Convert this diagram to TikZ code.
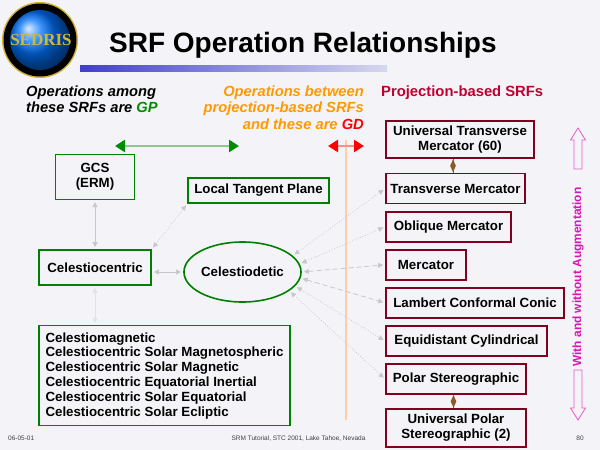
\documentclass[tikz,border=0pt]{standalone}
\usepackage{fontspec}
\setmainfont{Liberation Sans}
\newfontfamily\logofont{Liberation Serif}
\usetikzlibrary{positioning,shapes.geometric,arrows.meta}

\definecolor{bgcol}{RGB}{244,244,248}
\definecolor{gpgreen}{RGB}{0,140,0}
\definecolor{boxgreen}{RGB}{0,128,0}
\definecolor{maroon}{RGB}{128,0,32}
\definecolor{ochre}{RGB}{255,153,0}
\definecolor{pale}{RGB}{255,205,170}
\definecolor{crimson}{RGB}{192,0,48}
\definecolor{linkgray}{RGB}{200,200,200}
\definecolor{augpink}{RGB}{220,20,180}
\definecolor{brownish}{RGB}{140,90,40}
\definecolor{gold}{RGB}{212,180,60}

\tikzset{
  gbox/.style={draw=boxgreen, line width=1.6pt, inner sep=0pt, align=center,
    font=\fontsize{13.3}{14.5}\bfseries\selectfont},
  pbox/.style={draw=maroon, line width=1.6pt, inner sep=0pt, align=center,
    minimum height=30pt, font=\fontsize{13.3}{14.5}\bfseries\selectfont},
  link/.style={linkgray, line width=0.8pt, shorten >=2pt, shorten <=2pt,
    {Triangle[length=5pt,width=5pt]}-{Triangle[length=5pt,width=5pt]}},
  dsh/.style={dash pattern=on 5pt off 3pt},
  gem/.style={diamond, fill=brownish, inner sep=0pt, minimum width=6pt, minimum height=13pt},
  hollow/.style={draw=augpink!70, line width=0.8pt},
}

\begin{document}
\begin{tikzpicture}[x=1pt,y=-1pt]
\fill[bgcol] (0,0) rectangle (600,450);
\useasboundingbox (0,0) rectangle (600,450);

% logo
\fill[gold] (40,40) circle (38pt);
\fill[black] (40,40) circle (36.5pt);
\shade[ball color=blue!55!cyan] (40,40) circle (30pt);
\node[font=\logofont\bfseries\fontsize{17}{17}\selectfont, text=gold] (logo) at (41,40) {SEDRIS};

% title and bar
\node[anchor=base west, inner sep=0pt, font=\fontsize{28}{30}\bfseries\selectfont] (title) at (109,52) {SRF Operation Relationships};
\shade[left color={rgb,255:red,64;green,64;blue,200}, right color={rgb,255:red,215;green,215;blue,240}] (80,65) rectangle (387,71);

% headings
\node[anchor=north west, align=left, inner sep=0pt, font=\fontsize{14.7}{16}\bfseries\itshape\selectfont] (gphead) at (26,85.5)
  {Operations among\\these SRFs are \textcolor{gpgreen}{GP}};
\node[anchor=north east, align=right, inner sep=0pt, text=ochre, font=\fontsize{14.7}{16.5}\bfseries\itshape\selectfont] (gdhead) at (364,85.5)
  {Operations between\\projection-based SRFs\\and these are \textcolor{red}{GD}};
\node[anchor=base west, inner sep=0pt, text=crimson, font=\fontsize{14.8}{16}\bfseries\selectfont] (projhead) at (381,96) {Projection-based SRFs};

% range arrows
\coordinate (gpl) at (115,146);
\coordinate (gpr) at (239,146);
\coordinate (gdl) at (328,146);
\coordinate (gdr) at (364,146);
\coordinate (gdtop) at (346,140);
\coordinate (gdbot) at (346,420);
\draw[pale, line width=2.5pt] (gdtop) -- (gdbot);
\draw[gpgreen!45, line width=2.5pt, {Triangle[length=10pt,width=12pt,color=gpgreen]}-{Triangle[length=10pt,width=12pt,color=gpgreen]}] (gpl) -- (gpr);
\draw[red!45, line width=2.5pt, {Triangle[length=10pt,width=12pt,color=red]}-{Triangle[length=10pt,width=12pt,color=red]}] (gdl) -- (gdr);

% GP side
\node[gbox, minimum width=112pt, minimum height=35pt] (cc) at (95,267.5) {Celestiocentric};
\node[gbox, minimum width=79pt, minimum height=45pt, above=49pt of cc] (gcs) {GCS\\(ERM)};
\node[gbox, minimum width=141pt, minimum height=25pt] (ltp) at (258.5,190.5) {Local Tangent Plane};
\node[ellipse, draw=boxgreen, line width=1.6pt, inner sep=0pt, minimum width=99pt, minimum height=60pt,
  font=\fontsize{13.3}{14.5}\bfseries\selectfont] (cd) at (242.5,272) {Celestiodetic};
\node[gbox, align=left, minimum width=251pt, minimum height=100pt,
  font=\fontsize{13.3}{14.8}\bfseries\selectfont, below=39pt of cc.south west, anchor=north west] (cel)
  {Celestiomagnetic\\Celestiocentric Solar Magnetospheric\\Celestiocentric Solar Magnetic\\Celestiocentric Equatorial Inertial\\Celestiocentric Solar Equatorial\\Celestiocentric Solar Ecliptic};

% projection-based SRFs
\node[pbox, minimum width=148pt, minimum height=37pt] (utm) at (460,139.5) {Universal Transverse\\Mercator (60)};
\node[pbox, minimum width=139pt, below=14pt of utm.south west, anchor=north west] (tm) {Transverse Mercator};
\node[pbox, minimum width=125pt, below=6.5pt of tm.south west, anchor=north west] (om) {Oblique Mercator};
\node[pbox, minimum width=80pt, below=6.5pt of om.south west, anchor=north west] (merc) {Mercator};
\node[pbox, minimum width=178pt, below=6.5pt of merc.south west, anchor=north west] (lcc) {Lambert Conformal Conic};
\node[pbox, minimum width=161pt, below=6.5pt of lcc.south west, anchor=north west] (ec) {Equidistant Cylindrical};
\node[pbox, minimum width=140pt, below=6.5pt of ec.south west, anchor=north west] (ps) {Polar Stereographic};
\node[pbox, minimum width=140pt, minimum height=38pt, below=13pt of ps.south west, anchor=north west] (ups) {Universal Polar\\Stereographic (2)};

\draw[brownish, line width=0.8pt] ([xshift=-2.5pt]tm.north) -- node[gem]{} ([xshift=-2.5pt]tm.north |- utm.south);
\draw[brownish, line width=0.8pt] ([xshift=-2.5pt]ups.north) -- node[gem]{} ([xshift=-2.5pt]ups.north |- ps.south);

% links
\draw[link] (gcs) -- (cc);
\draw[link] (cc.east |- cd.west) -- (cd.west);
\draw[link, dotted] (cc.north east) -- (ltp.south west);
\draw[link, linkgray!50] (cc.south) -- (cc.south |- cel.north);
\draw[link, dotted] (cd.18) -- (tm.west);
\draw[link, dotted] (cd.8) -- (om.west);
\draw[link, dsh] (cd.0) -- (merc.west);
\draw[link, dsh] (cd.-6) -- (lcc.west);
\draw[link, dotted] (cd.-15) -- (ec.west);
\draw[link, dotted] (cd.-22) -- (ps.west);

% augmentation
\draw[hollow] (578,128) -- (585.5,140) -- (582,140) -- (582,169) -- (574,169) -- (574,140) -- (570.5,140) -- cycle;
\draw[hollow] (578,420) -- (585.5,408) -- (582,408) -- (582,370) -- (574,370) -- (574,408) -- (570.5,408) -- cycle;
\node[rotate=90, text=augpink, inner sep=0pt, font=\fontsize{11.9}{13}\bfseries\selectfont] (aug) at (578,277) {With and without Augmentation};

% footer
\node[anchor=base west, inner sep=0pt, text=black!75, font=\fontsize{6.5}{7}\selectfont] (date) at (8,440) {06-05-01};
\node[anchor=base, inner sep=0pt, text=black!75, font=\fontsize{6.5}{7}\selectfont] (foot) at (298.5,440) {SRM Tutorial, STC 2001, Lake Tahoe, Nevada};
\node[anchor=base, inner sep=0pt, text=black!75, font=\fontsize{6.5}{7}\selectfont] (page) at (580,440) {80};
\end{tikzpicture}
\end{document}
